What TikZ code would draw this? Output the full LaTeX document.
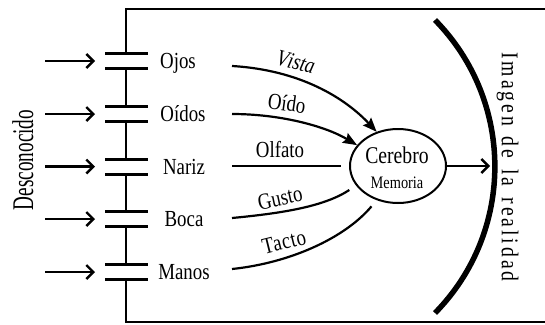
\documentclass[tikz,border=0pt]{standalone}
\usepackage{fontspec}
\setmainfont{Liberation Serif}[FakeStretch=0.82]
\usetikzlibrary{arrows.meta,shapes.geometric}
\begin{document}
\begin{tikzpicture}[x=1pt,y=-1pt,
  plate/.style={line width=3pt},
  wire/.style={line width=2pt},
  inarrow/.style={line width=2.4pt,-{Straight Barb[length=7pt,width=14pt,line width=2.4pt]}},
  organ/.style={anchor=base,font=\fontsize{23}{23}\selectfont,inner sep=0pt},
  sense/.style={font=\fontsize{23}{23}\selectfont\addfontfeatures{Kerning=Off},inner sep=0pt},
  nerve/.style={line width=2.2pt},
  fillarrow/.style={nerve,-{Stealth[length=14pt,width=11pt,inset=2pt]}},
  brainbox/.style={ellipse,draw,line width=2pt,minimum width=96pt,minimum height=74pt,inner sep=0pt},
]
\useasboundingbox (0,0) rectangle (545,324);

% frame
\draw[wire] (545,9) -- (126,9) -- (126,53.5);
\draw[wire] (126,68.5) -- (126,106.5);
\draw[wire] (126,121.5) -- (126,159);
\draw[wire] (126,174) -- (126,211.5);
\draw[wire] (126,226.5) -- (126,264.5);
\draw[wire] (126,279.5) -- (126,322) -- (545,322);

% capacitors and incoming arrows
\foreach \y/\n in {61/1,114/2,166.5/3,219/4,272/5}{
  \draw[plate] (105,\y-7.5) -- (148,\y-7.5);
  \draw[plate] (105,\y+7.5) -- (148,\y+7.5);
  \coordinate (in\n) at (45,\y);
  \coordinate (tip\n) at (95,\y);
  \draw[inarrow] (in\n) -- (tip\n);
}

% organ labels
\node[organ] (ojos) at (178,68.5) {Ojos};
\node[organ] (oidos) at (183,121.5) {Oídos};
\node[organ] (nariz) at (184,174) {Nariz};
\node[organ] (boca) at (184,226.5) {Boca};
\node[organ] (manos) at (184,279.5) {Manos};

% left vertical label
\node[rotate=90,anchor=base,inner sep=0pt,font=\fontsize{30}{30}\selectfont] (desc) at (33,160) {\scalebox{0.78}[1]{Desconocido}};

% brain
\node[brainbox] (cer) at (398,166) {};
\node[anchor=base,inner sep=0pt,font=\fontsize{24}{24}\selectfont] (cert) at (397,163) {Cerebro};
\node[anchor=base,inner sep=0pt,font=\fontsize{17.5}{17.5}\selectfont] (memt) at (397,188) {Memoria};

% nerve start points
\coordinate (s1) at (232,66);
\coordinate (s2) at (232,114);
\coordinate (s3) at (232,166);
\coordinate (s4) at (232,218);
\coordinate (s5) at (232,269);

\draw[fillarrow] (s1) .. controls (300,70) and (345,98) .. (cer.122);
\draw[fillarrow] (s2) .. controls (280,114) and (325,126) .. (cer.153);
\draw[nerve,shorten >=8pt] (s3) -- (cer.west);
\draw[nerve,shorten >=8pt] (s4) .. controls (285,213) and (325,206) .. (cer.205);
\draw[nerve,shorten >=8pt] (s5) .. controls (290,263) and (345,238) .. (cer.238);

% sense labels
\node[sense,rotate=-15] (vista) at (296,62) {\itshape Vista};
\node[sense,rotate=-8] (oido) at (287,103) {Oído};
\node[sense] (olfato) at (280,150) {Olfato};
\node[sense,rotate=12] (gusto) at (280,198) {Gusto};
\node[sense,rotate=14,font=\fontsize{23}{23}\selectfont\addfontfeatures{LetterSpace=3}] (tacto) at (284,242) {Tacto};

% output arrow
\coordinate (img) at (490,166);
\draw[inarrow,line width=2pt] (cer.east) -- (img);

% big arc
\draw[line width=5.5pt] (435,20) .. controls (514.8,101.2) and (514.8,231.8) .. (435,313);

% right vertical label
\node[rotate=-90,inner sep=0pt,font=\fontsize{24}{24}\selectfont\addfontfeatures{LetterSpace=12}] (imagen) at (507.5,167) {Imagen\hspace{3pt} de\hspace{3pt} la\hspace{4pt} realidad};
\end{tikzpicture}
\end{document}
